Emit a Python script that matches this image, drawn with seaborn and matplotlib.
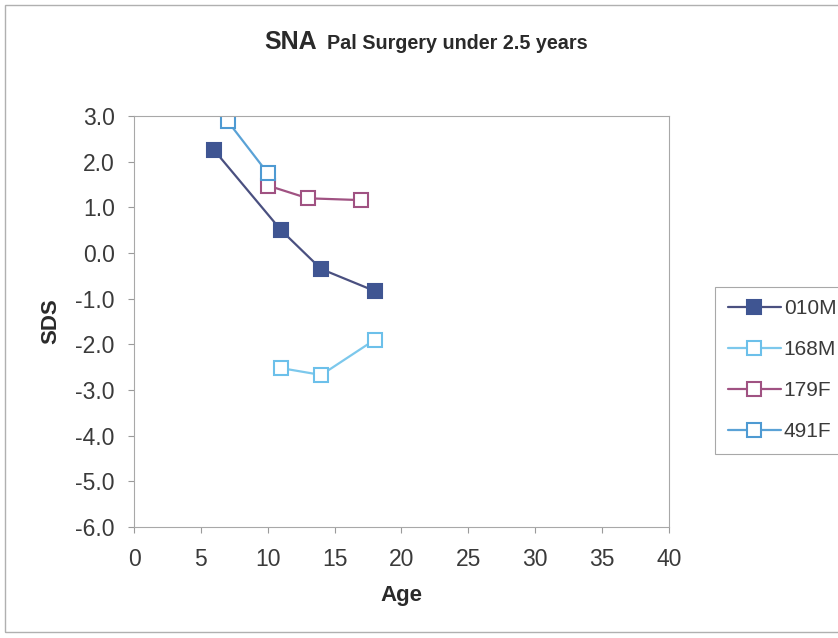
import numpy as np
import pandas as pd
import matplotlib
matplotlib.use("Agg")
import matplotlib.pyplot as plt
from matplotlib.patches import Rectangle
from matplotlib.ticker import FormatStrFormatter
import seaborn as sns

# Data
age_010m = [6, 11, 14, 18]
sds_010m = [2.25, 0.50, -0.35, -0.83]

age_168m = [11, 14, 18]
sds_168m = [-2.52, -2.67, -1.90]

age_179f = [10, 13, 17]
sds_179f = [1.48, 1.20, 1.16]

age_491f = [7, 10]
sds_491f = [2.89, 1.75]

x_ticks = [0, 5, 10, 15, 20, 25, 30, 35, 40]
y_ticks = [3.0, 2.0, 1.0, 0.0, -1.0, -2.0, -3.0, -4.0, -5.0, -6.0]

sns.set_style("white")
plt.rcParams["font.family"] = ["Liberation Sans", "DejaVu Sans"]
plt.rcParams["axes.unicode_minus"] = False

fig = plt.figure(figsize=(8.38, 6.38), dpi=100)
ax = fig.add_axes([0.160, 0.174, 0.638, 0.644])

# chart area border
fig.patches.append(Rectangle((5 / 838, 6 / 638), 1.0, 1 - 11 / 638,
                             transform=fig.transFigure, fill=False,
                             edgecolor="#b0b0b0", linewidth=1.0))

series = [
    ("010M", age_010m, sds_010m, "#4a5080", "#3f5592", "#3f5592"),
    ("168M", age_168m, sds_168m, "#7cc8ec", "white", "#6cc0ea"),
    ("179F", age_179f, sds_179f, "#a05282", "white", "#a05282"),
    ("491F", age_491f, sds_491f, "#5aa2d6", "white", "#4e9ad2"),
]

for name, x, y, lc, fc, ec in series:
    df = pd.DataFrame({"Age": x, "SDS": y})
    sns.lineplot(data=df, x="Age", y="SDS", ax=ax, color=lc, linewidth=1.6,
                 marker="s", markersize=10, markerfacecolor=fc,
                 markeredgecolor=ec, markeredgewidth=1.5, label=name)

ax.set_xlim(0, 40)
ax.set_ylim(-6.0, 3.0)
ax.set_xticks(x_ticks)
ax.set_yticks(y_ticks)
ax.yaxis.set_major_formatter(FormatStrFormatter("%.1f"))
ax.tick_params(axis="both", labelsize=16.5, colors="#9a9a9a", labelcolor="#3a3a3a",
               direction="out", length=4, width=0.8, left=True, bottom=True)
ax.tick_params(axis="x", pad=11)
ax.tick_params(axis="y", pad=10)
for sp in ax.spines.values():
    sp.set_color("#a8a8a8")
    sp.set_linewidth(0.8)

ax.set_xlabel("Age", fontsize=16, fontweight="bold", color="#2a2a2a", labelpad=10)
ax.set_ylabel("SDS", fontsize=16, fontweight="bold", color="#2a2a2a", labelpad=10)

# title in two font sizes
fig.text(0.378, 0.923, "SNA", fontsize=18, fontweight="bold", color="#2a2a2a",
         ha="right", va="baseline")
fig.text(0.390, 0.923, "Pal Surgery under 2.5 years", fontsize=14.2, fontweight="bold",
         color="#2a2a2a", ha="left", va="baseline")

leg = ax.legend(loc="upper left", bbox_to_anchor=(715 / 838, 1 - 287 / 638),
                bbox_transform=fig.transFigure, fontsize=15, frameon=True,
                fancybox=False, edgecolor="#a8a8a8", framealpha=1,
                handlelength=2.55, handletextpad=0.15, labelspacing=1.05,
                borderpad=0.6, borderaxespad=0)
leg.get_frame().set_linewidth(0.8)
for t in leg.get_texts():
    t.set_color("#3a3a3a")

fig.savefig("out.png", dpi=100, facecolor="white")
